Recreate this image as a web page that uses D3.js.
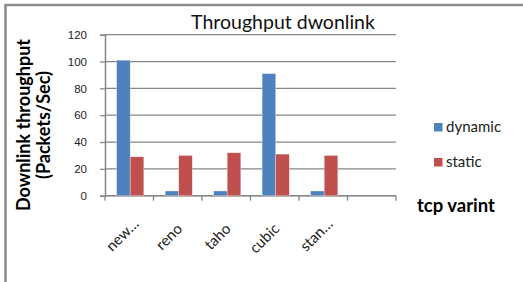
<!DOCTYPE html>
<html>
<head>
<meta charset="utf-8">
<script src="https://cdn.jsdelivr.net/npm/d3@7"></script>
<style>
  body { margin: 0; background: #fff; }
  svg { display: block; font-family: Lato, "Open Sans", sans-serif; }
</style>
</head>
<body>
<svg id="chart" width="523" height="282"></svg>
<script>
const categories = ["new…", "reno", "taho", "cubic", "stan…", ""];
const seriesNames = ["dynamic", "static"];
const dynamicValues = [101, 3.5, 3.5, 91, 3.5, null];
const staticValues = [29, 30, 32, 31, 30, null];
const yTicks = [0, 20, 40, 60, 80, 100, 120];

const colors = { dynamic: "#4F81BD", static: "#C0504D" };
const gridColor = "#868686";

const svg = d3.select("#chart");

// outer chart frame (cut off at right and bottom like the source picture)
svg.append("rect")
  .attr("x", 5.5).attr("y", 5)
  .attr("width", 540).attr("height", 300)
  .attr("fill", "none")
  .attr("stroke", "#8c8c8c")
  .attr("stroke-width", 2.5);

const plot = { left: 105, right: 396, top: 34.7, bottom: 195.7 };

const x0 = d3.scaleBand().domain(d3.range(categories.length)).range([plot.left, plot.right]).padding(0);
const bw = x0.bandwidth();
const x1 = d3.scaleBand().domain(seriesNames).range([bw * 0.24, bw * 0.24 + bw * 0.56]).padding(0);
const y = d3.scaleLinear().domain([0, 120]).range([plot.bottom, plot.top]);

// gridlines
svg.append("g")
  .selectAll("line")
  .data(yTicks)
  .join("line")
  .attr("x1", plot.left).attr("x2", plot.right)
  .attr("y1", d => y(d)).attr("y2", d => y(d))
  .attr("stroke", gridColor).attr("stroke-width", 1.3);

// y axis
const yAxis = svg.append("g")
  .attr("transform", `translate(${plot.left},0)`)
  .call(d3.axisLeft(y).tickValues(yTicks).tickSize(5).tickPadding(13));
yAxis.select(".domain").attr("stroke", gridColor).attr("stroke-width", 1.5);
yAxis.selectAll(".tick line").attr("stroke", gridColor).attr("stroke-width", 1.3);
yAxis.selectAll(".tick text").style("font-size", "11.5px").attr("fill", "#222");

// x axis
const boundaries = d3.range(categories.length + 1).map(i => plot.left + i * bw);
const xAxis = svg.append("g");
xAxis.append("line")
  .attr("x1", plot.left).attr("x2", plot.right)
  .attr("y1", plot.bottom).attr("y2", plot.bottom)
  .attr("stroke", gridColor).attr("stroke-width", 1.5);
xAxis.selectAll("line.tk")
  .data(boundaries)
  .join("line")
  .attr("class", "tk")
  .attr("x1", d => d).attr("x2", d => d)
  .attr("y1", plot.bottom).attr("y2", plot.bottom + 5)
  .attr("stroke", gridColor).attr("stroke-width", 1.3);
xAxis.selectAll("text")
  .data(categories)
  .join("text")
  .attr("transform", (d, i) => `translate(${x0(i) + bw / 2 + 5.5},${plot.bottom + 34}) rotate(-45)`)
  .attr("text-anchor", "end")
  .attr("dx", d => d.endsWith("…") ? 7 : 0)
  .style("font-size", "15px")
  .attr("fill", "#222")
  .text(d => d);

// bars
const rows = categories.map((c, i) => ({ i, dynamic: dynamicValues[i], static: staticValues[i] }));
svg.append("g")
  .selectAll("g")
  .data(rows)
  .join("g")
  .attr("transform", d => `translate(${x0(d.i)},0)`)
  .selectAll("rect")
  .data(d => seriesNames.map(k => ({ key: k, value: d[k] })).filter(e => e.value != null))
  .join("rect")
  .attr("x", d => x1(d.key))
  .attr("y", d => y(d.value))
  .attr("width", x1.bandwidth())
  .attr("height", d => y(0) - y(d.value))
  .attr("fill", d => colors[d.key])
  .attr("stroke", "#fff").attr("stroke-opacity", 0.5).attr("stroke-width", 0.6);

// title
svg.append("text")
  .attr("x", 283).attr("y", 29)
  .attr("text-anchor", "middle")
  .style("font-size", "19.5px")
  .attr("fill", "#111")
  .text("Throughput dwonlink");

// y axis title
const yTitle = svg.append("g").attr("transform", "translate(0,125)");
yTitle.append("text")
  .attr("transform", "translate(30,0) rotate(-90)")
  .attr("text-anchor", "middle")
  .style("font-size", "18px").style("font-weight", "bold")
  .text("Downlink throughput");
yTitle.append("text")
  .attr("transform", "translate(50,0) rotate(-90)")
  .attr("text-anchor", "middle")
  .style("font-size", "18px").style("font-weight", "bold")
  .text("(Packets/Sec)");

// x axis title
svg.append("text")
  .attr("x", 417).attr("y", 212)
  .style("font-size", "18.5px").style("font-weight", "bold")
  .text("tcp varint");

// legend
const legend = svg.append("g").attr("transform", "translate(434,123)");
const li = legend.selectAll("g")
  .data(seriesNames)
  .join("g")
  .attr("transform", (d, i) => `translate(0,${i * 35})`);
li.append("rect").attr("width", 8.5).attr("height", 8.5).attr("fill", d => colors[d]);
li.append("text").attr("x", 12).attr("y", 9)
  .style("font-size", "15px").attr("fill", "#222")
  .text(d => d);
</script>
</body>
</html>
